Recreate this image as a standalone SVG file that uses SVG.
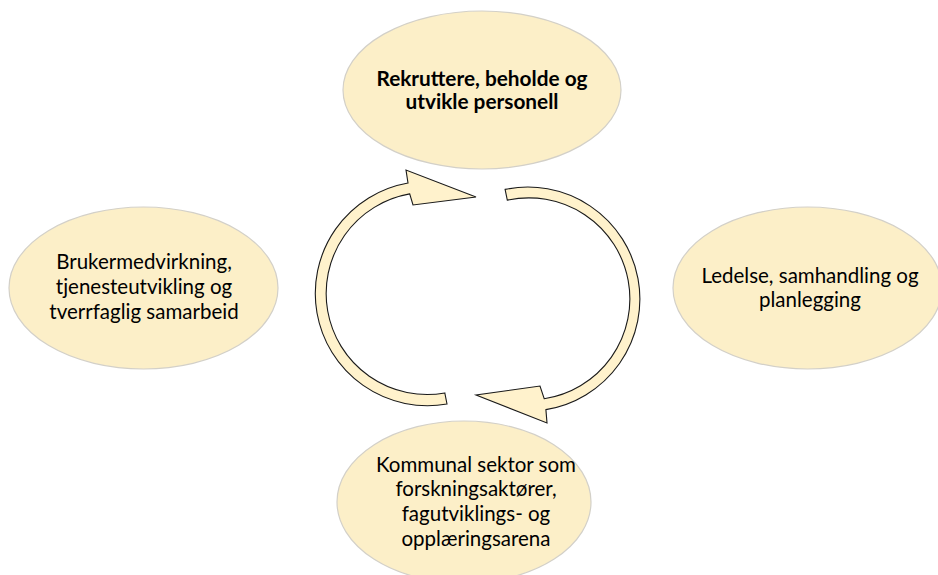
<svg xmlns="http://www.w3.org/2000/svg" width="938" height="575" viewBox="0 0 938 575">
<style>
.node ellipse{fill:#FCEFC8;stroke:#D3D0C8;stroke-width:1.2}
.t{font-family:Lato,"Liberation Sans",sans-serif;font-size:20.5px;fill:#000;text-anchor:middle}
.b{font-weight:bold;font-size:20.8px}
.arr{fill:#FFF2CC;stroke:#1a1a1a;stroke-width:1.1;stroke-linejoin:miter}
</style>
<rect width="938" height="575" fill="#fff"/>
<g id="connectors">
<path class="arr" d="M447,404 A112,112 0 1 1 408,183 L406,170 L476,197 L413,205 L409.7,193.9 A101,101 0 1 0 444.8,393 Z"/>
<path class="arr" d="M505.1,189.4 A112,112 0 1 1 545.9,409.6 L547,423 L476,395 L540,386 L544.2,398.7 A101,101 0 1 0 507.3,200.2 Z"/>
</g>
<g id="node-top" class="node">
<ellipse cx="482" cy="90" rx="139" ry="79"/>
<text class="t b" x="482" y="86">Rekruttere, beholde og</text>
<text class="t b" x="482" y="109">utvikle personell</text>
</g>
<g id="node-left" class="node">
<ellipse cx="143.5" cy="288" rx="134.5" ry="81"/>
<text class="t" x="144" y="269">Brukermedvirkning,</text>
<text class="t" x="144" y="294">tjenesteutvikling og</text>
<text class="t" x="144" y="319">tverrfaglig samarbeid</text>
</g>
<g id="node-right" class="node">
<ellipse cx="807.5" cy="288" rx="134.5" ry="81"/>
<text class="t" x="810" y="283">Ledelse, samhandling og</text>
<text class="t" x="810" y="307">planlegging</text>
</g>
<g id="node-bottom" class="node">
<ellipse cx="464" cy="502" rx="127" ry="81"/>
<text class="t" x="476" y="472">Kommunal sektor som</text>
<text class="t" x="476" y="496">forskningsaktører,</text>
<text class="t" x="476" y="521">fagutviklings- og</text>
<text class="t" x="476" y="546">opplæringsarena</text>
</g>
</svg>
